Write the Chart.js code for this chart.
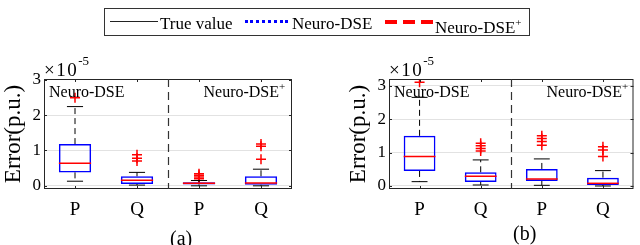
<!DOCTYPE html>
<html>
<head>
<meta charset="utf-8">
<script src="https://cdn.jsdelivr.net/npm/chart.js@4"></script>
<style>
  body { margin: 0; background: #fff; }
  #wrap { position: relative; width: 640px; height: 245px; overflow: hidden; font-family: "Liberation Serif", "Times New Roman", serif; color: #000; }
  canvas { position: absolute; top: 0; }
  .abs { position: absolute; white-space: nowrap; line-height: 1; }
  #legend { position: absolute; left: 104px; top: 8px; width: 424px; height: 26px; border: 1px solid #333; background: #fff; }
  .lg-text { position: absolute; font-size: 17px; line-height: 17px; white-space: nowrap; }
  .lg-text sup { font-size: 11px; line-height: 0; vertical-align: 0; position: relative; top: -7px; }
  .exp { font-size: 19px; letter-spacing: 1.5px; }
  .exp sup { font-size: 13px; line-height: 0; vertical-align: 0; position: relative; top: -11px; letter-spacing: 0; }
  .cap { font-size: 20px; }
</style>
</head>
<body>
<div id="wrap">
  <canvas id="chartA" width="320" height="245" style="left:0"></canvas>
  <canvas id="chartB" width="320" height="245" style="left:320px"></canvas>

  <div id="legend">
    <div style="position:absolute;left:5px;top:12px;width:48px;border-top:1px solid #222"></div>
    <div class="lg-text" style="left:55px;top:6px">True value</div>
    <div style="position:absolute;left:140px;top:11px;width:43px;border-top:3px dotted #0000ff"></div>
    <div class="lg-text" style="left:187px;top:6px">Neuro-DSE</div>
    <div style="position:absolute;left:280px;top:11px;width:48px;height:4px;background:repeating-linear-gradient(90deg,#ff0000 0 12px,transparent 12px 18px)"></div>
    <div class="lg-text" style="left:330px;top:10px">Neuro-DSE<sup>+</sup></div>
  </div>

  <div class="abs exp" style="left:44px;top:60px">×10<sup>-5</sup></div>
  <div class="abs exp" style="left:389px;top:60px">×10<sup>-5</sup></div>
  <div class="abs cap" style="left:170px;top:228px">(a)</div>
  <div class="abs cap" style="left:513px;top:223px">(b)</div>
</div>

<script>
const categories = ['P', 'Q', 'P', 'Q']
const yTicks = [0, 1, 2, 3]

// panel (a), values in 1e-5 p.u.
const aLow = [0.13, 0.02, 0.0, 0.0]
const aQ1 = [0.38, 0.05, 0.04, 0.03]
const aMedian = [0.64, 0.16, 0.07, 0.08]
const aQ3 = [1.18, 0.27, 0.10, 0.27]
const aHigh = [2.24, 0.38, 0.15, 0.47]
const aOutliers = [[2.49], [0.70, 0.78, 0.88], [0.20, 0.25, 0.30, 0.34], [0.75, 1.12, 1.18]]

// panel (b)
const bLow = [0.13, 0.03, 0.02, 0.0]
const bQ1 = [0.45, 0.12, 0.15, 0.03]
const bMedian = [0.88, 0.29, 0.21, 0.08]
const bQ3 = [1.50, 0.41, 0.51, 0.25]
const bHigh = [2.65, 0.78, 0.81, 0.46]
const bOutliers = [[3.10], [1.05, 1.12, 1.20, 1.28], [1.22, 1.33, 1.42, 1.50], [0.88, 1.08, 1.17]]

const serif = '"Liberation Serif", "Times New Roman", serif'

function boxParts(low, median, high) {
  return {
    id: 'boxParts',
    afterDatasetsDraw(chart) {
      const { ctx, chartArea: area, scales: { x, y } } = chart
      const bars = chart.getDatasetMeta(0).data
      ctx.save()
      categories.forEach((c, i) => {
        const cx = x.getPixelForValue(i)
        const half = bars[i].width / 2
        const bar = bars[i].getProps(['y', 'base'], true)
        const top = Math.min(bar.y, bar.base)
        const bottom = Math.max(bar.y, bar.base)
        // whiskers
        ctx.strokeStyle = '#000'
        ctx.lineWidth = 1
        ctx.setLineDash([6, 4])
        ctx.beginPath()
        ctx.moveTo(cx, top)
        ctx.lineTo(cx, y.getPixelForValue(high[i]))
        ctx.moveTo(cx, bottom)
        ctx.lineTo(cx, y.getPixelForValue(low[i]))
        ctx.stroke()
        ctx.setLineDash([])
        ctx.beginPath()
        ctx.moveTo(cx - half / 2, y.getPixelForValue(high[i]))
        ctx.lineTo(cx + half / 2, y.getPixelForValue(high[i]))
        ctx.moveTo(cx - half / 2, y.getPixelForValue(low[i]))
        ctx.lineTo(cx + half / 2, y.getPixelForValue(low[i]))
        ctx.stroke()
        // median
        ctx.strokeStyle = '#ff0000'
        ctx.lineWidth = 1.5
        ctx.beginPath()
        ctx.moveTo(cx - half, y.getPixelForValue(median[i]))
        ctx.lineTo(cx + half, y.getPixelForValue(median[i]))
        ctx.stroke()
      })

      // frame and inward ticks
      ctx.strokeStyle = '#262626'
      ctx.lineWidth = 1
      ctx.strokeRect(area.left + 0.5, area.top + 0.5, area.width - 1, area.height - 1)
      ctx.beginPath()
      yTicks.forEach((v) => {
        const py = Math.round(y.getPixelForValue(v)) + 0.5
        ctx.moveTo(area.left, py); ctx.lineTo(area.left + 3, py)
        ctx.moveTo(area.right, py); ctx.lineTo(area.right - 3, py)
      })
      categories.forEach((c, i) => {
        const px = Math.round(x.getPixelForValue(i)) + 0.5
        ctx.moveTo(px, area.bottom); ctx.lineTo(px, area.bottom - 3)
        ctx.moveTo(px, area.top); ctx.lineTo(px, area.top + 3)
      })
      ctx.stroke()

      // separator between the two estimators
      const sx = Math.round(x.getPixelForValue(1.5)) + 0.5
      ctx.strokeStyle = '#333'
      ctx.lineWidth = 1.2
      ctx.setLineDash([8, 5])
      ctx.beginPath()
      ctx.moveTo(sx, area.top)
      ctx.lineTo(sx, area.bottom)
      ctx.stroke()
      ctx.setLineDash([])

      // group names
      ctx.fillStyle = '#000'
      ctx.font = '16px ' + serif
      ctx.textBaseline = 'alphabetic'
      ctx.fillText('Neuro-DSE', area.left + 5, area.top + 18)
      ctx.fillText('Neuro-DSE', sx + 35, area.top + 18)
      const w = ctx.measureText('Neuro-DSE').width
      ctx.font = '11px ' + serif
      ctx.fillText('+', sx + 35 + w, area.top + 11)
      ctx.restore()
    },
  }
}

function makeChart(id, low, q1, median, q3, high, outliers, yMax, padding) {
  const boxes = categories.map((c, i) => ({ x: i, y: [q1[i], q3[i]] }))
  const points = []
  outliers.forEach((list, i) => list.forEach((v) => points.push({ x: i, y: v })))

  return new Chart(document.getElementById(id), {
    type: 'bar',
    data: {
      datasets: [
        {
          type: 'bar',
          data: boxes,
          backgroundColor: 'rgba(255,255,255,0)',
          borderColor: '#0000ff',
          borderWidth: 1.5,
          borderSkipped: false,
          barPercentage: 0.52,
          categoryPercentage: 1,
        },
        {
          type: 'scatter',
          data: points,
          pointStyle: 'cross',
          pointRadius: 5,
          borderColor: '#ff0000',
          borderWidth: 1.5,
        },
      ],
    },
    options: {
      responsive: false,
      animation: false,
      layout: { padding },
      plugins: { legend: { display: false }, tooltip: { enabled: false } },
      scales: {
        x: {
          type: 'linear',
          min: -0.5,
          max: 3.5,
          offset: false,
          afterBuildTicks: (scale) => { scale.ticks = categories.map((c, i) => ({ value: i })) },
          afterFit: (scale) => { scale.height = 56 },
          grid: { display: false, offset: false },
          border: { display: false },
          ticks: {
            callback: (v) => categories[v],
            color: '#000',
            padding: 2,
            font: { family: serif, size: 19 },
          },
        },
        y: {
          min: -0.09,
          max: yMax,
          afterBuildTicks: (scale) => { scale.ticks = yTicks.map((v) => ({ value: v })) },
          afterFit: (scale) => { scale.width = 44 },
          grid: { color: '#e2e2e2', drawTicks: false },
          border: { display: false },
          ticks: {
            color: '#000',
            padding: 3,
            font: { family: serif, size: 17 },
          },
          title: {
            display: true,
            text: 'Error(p.u.)',
            color: '#000',
            padding: 0,
            font: { family: serif, size: 23 },
          },
        },
      },
    },
    plugins: [boxParts(low, median, high)],
  })
}

makeChart('chartA', aLow, aQ1, aMedian, aQ3, aHigh, aOutliers, 3.02, { left: 0, top: 79, right: 28, bottom: 0 })
makeChart('chartB', bLow, bQ1, bMedian, bQ3, bHigh, bOutliers, 3.2, { left: 25, top: 79, right: 5, bottom: 0 })
</script>
</body>
</html>
